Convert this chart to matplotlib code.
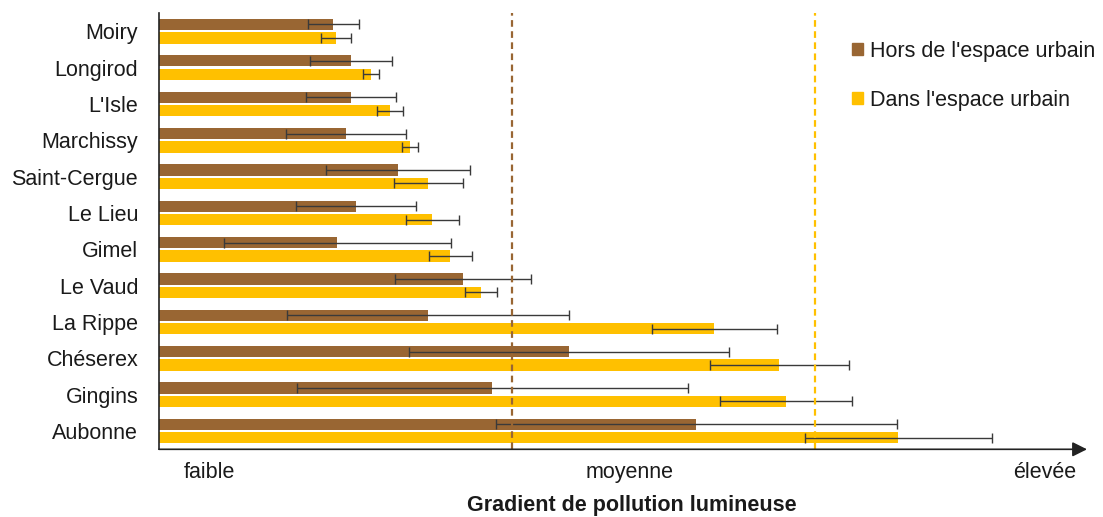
import numpy as np
import matplotlib.pyplot as plt
from matplotlib.patches import Patch

# Communes (de haut en bas)
communes = ['Moiry', 'Longirod', "L'Isle", 'Marchissy', 'Saint-Cergue', 'Le Lieu',
            'Gimel', 'Le Vaud', 'La Rippe', 'Chéserex', 'Gingins', 'Aubonne']

# Hors de l'espace urbain
hors_val = [174, 192, 192, 187, 239, 197, 178, 304, 269, 410, 333, 537]
hors_err = [25.5, 41, 45, 60, 72, 60, 113.5, 68, 141, 160, 195.5, 200.5]

# Dans l'espace urbain
dans_val = [177, 212, 231, 251, 269, 273, 291, 322, 555, 620, 627, 739]
dans_err = [15, 8, 13, 8, 34.5, 26.5, 21.5, 15.7, 62.5, 69.5, 66, 93.5]

# Moyennes (lignes pointillées)
moy_hors = 353
moy_dans = 656

gradient_labels = ['faible', 'moyenne', 'élevée']
gradient_pos = [50, 471, 886]

brun = '#996633'
jaune = '#FFC000'
gris = '#3a3a3a'

plt.rcParams['font.family'] = ['Liberation Sans', 'DejaVu Sans']

fig = plt.figure(figsize=(11.03, 5.17), dpi=100)
ax = fig.add_axes([159 / 1103, 1 - 449.3 / 517, 928 / 1103, (449.3 - 13) / 517])

y = np.arange(len(communes))
h = 0.31
off = 0.185

ax.barh(y - off, hors_val, height=h, color=brun)
ax.barh(y + off, dans_val, height=h, color=jaune)
ax.errorbar(hors_val, y - off, xerr=hors_err, fmt='none', ecolor=gris,
            elinewidth=1, capsize=3.3, capthick=1)
ax.errorbar(dans_val, y + off, xerr=dans_err, fmt='none', ecolor=gris,
            elinewidth=1, capsize=3.3, capthick=1)

ax.axvline(moy_hors, color=brun, lw=1.6, ls=(0, (3, 2)))
ax.axvline(moy_dans, color=jaune, lw=1.6, ls=(0, (3, 2)))

ax.set_xlim(0, 928)
ax.set_ylim(11.5, -0.5)
ax.set_yticks(y)
ax.set_yticklabels(communes, fontsize=15.5, color='#1a1a1a')
ax.set_xticks(gradient_pos)
ax.set_xticklabels(gradient_labels, fontsize=15.5, color='#1a1a1a')
ax.tick_params(axis='y', length=0, pad=15)
ax.tick_params(axis='x', length=0, pad=9)

for s in ['top', 'right', 'bottom']:
    ax.spines[s].set_visible(False)
ax.spines['left'].set_color('#222222')
ax.spines['left'].set_linewidth(1.2)

# axe x avec flèche
ax.annotate('', xy=(1.0, 0), xytext=(0, 0), xycoords='axes fraction',
            arrowprops=dict(arrowstyle='-|>', color='#222222', lw=1.2,
                            mutation_scale=22, shrinkA=0, shrinkB=0))

ax.set_xlabel('Gradient de pollution lumineuse', fontsize=15.5,
              fontweight='bold', color='#1a1a1a')
ax.xaxis.set_label_coords((632 - 159) / 928, -46 / 436)

handles = [Patch(color=brun, label="Hors de l'espace urbain"),
           Patch(color=jaune, label="Dans l'espace urbain")]
fig.legend(handles=handles, loc='upper left', bbox_to_anchor=(852 / 1103, 1 - 41 / 517),
           frameon=False, fontsize=15.5, handlelength=0.5, handleheight=0.5,
           handletextpad=0.35, labelspacing=1.3, borderpad=0, borderaxespad=0,
           labelcolor='#1a1a1a')

fig.savefig('out.png', dpi=100)
